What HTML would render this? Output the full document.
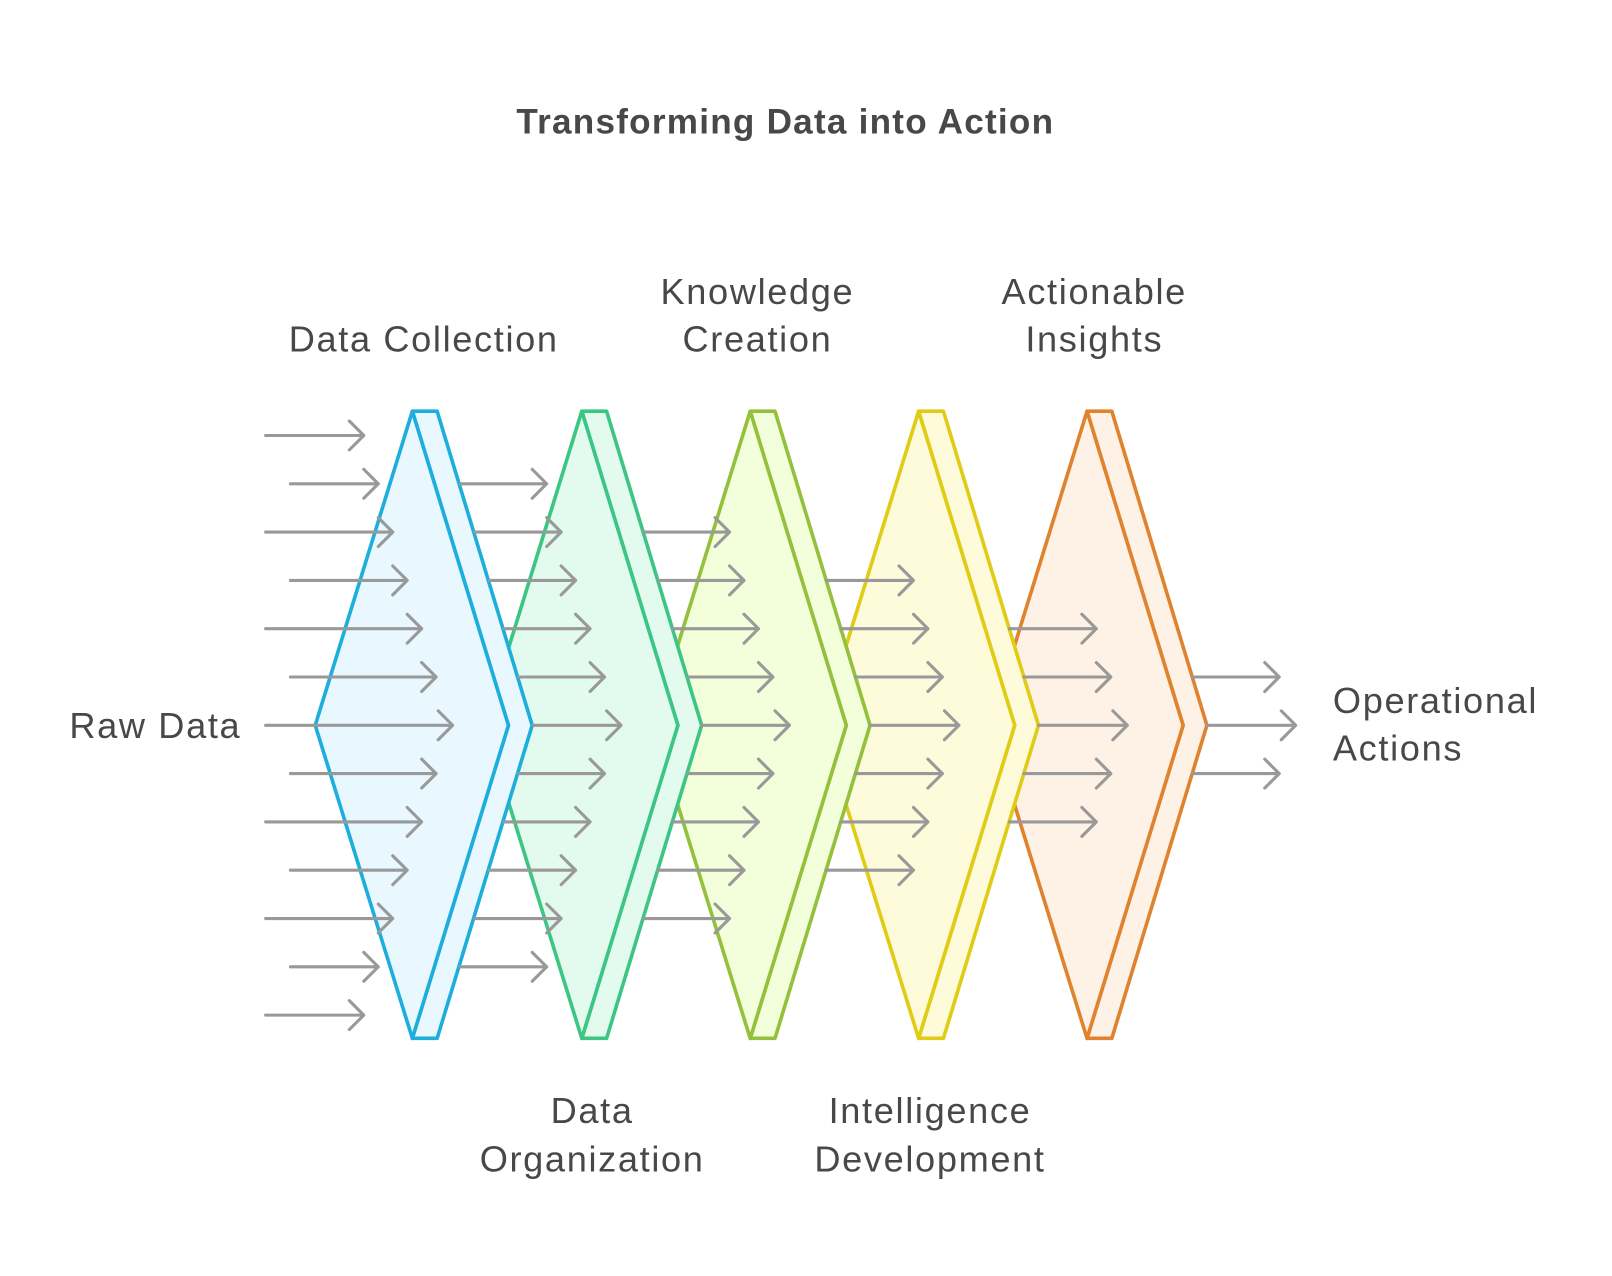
<!DOCTYPE html>
<html><head><meta charset="utf-8"><style>html,body{margin:0;padding:0;background:#fff}svg{display:block}text{font-family:"Liberation Sans",sans-serif;fill:#484848}</style></head>
<body>
<svg width="1612" height="1276" viewBox="0 0 1560 1235" xmlns="http://www.w3.org/2000/svg">
<defs>
<g id="st">
<polygon points="0,0 24,0 116,304 24,607 0,607 93,304" />
<polygon points="0,0 93,304 0,607 -94,304" />
</g>
</defs>
<g stroke-width="3.5" stroke-linejoin="round">
<use href="#st" x="1052" y="398" fill="#fef1e5" stroke="#e0832e"/>
<use href="#st" x="889" y="398" fill="#fefbdb" stroke="#e0cb15"/>
<use href="#st" x="726" y="398" fill="#f3fedb" stroke="#93c13c"/>
<use href="#st" x="563" y="398" fill="#e2fbee" stroke="#3cc583"/>
<use href="#st" x="399" y="398" fill="#e8f8fe" stroke="#1eaedb"/>
</g>
<g id="arrows" stroke="#999" stroke-width="3" fill="none" stroke-linecap="round" stroke-linejoin="round"></g>
<text x="760" y="118" font-size="34" font-weight="bold" letter-spacing="1.2" text-anchor="middle" dominant-baseline="central">Transforming Data into Action</text>
<g font-size="35" letter-spacing="1.6" text-anchor="middle" dominant-baseline="central">
<text x="410" y="328">Data Collection</text>
<text x="733" y="282">Knowledge</text><text x="733" y="328">Creation</text>
<text x="1059" y="282">Actionable</text><text x="1059" y="328">Insights</text>
<text x="573" y="1075">Data</text><text x="573" y="1122">Organization</text>
<text x="900" y="1075">Intelligence</text><text x="900" y="1122">Development</text>
</g>
<g font-size="35" letter-spacing="1.6" dominant-baseline="central">
<text x="67" y="702">Raw Data</text>
<text x="1290" y="678">Operational</text>
<text x="1290" y="724">Actions</text>
</g>
<script>
(function(){
var g=document.getElementById('arrows'),d='';
function arr(x1,x2,y){d+='M'+x1+' '+y+'H'+x2+'M'+(x2-14)+' '+(y-14)+'L'+x2+' '+y+'L'+(x2-14)+' '+(y+14);}
var step=46.75,c=702;
for(var k=-6;k<=6;k++){var y=c+k*step;var e=438-(k==0?0:2+Math.abs(k)*14);arr(Math.abs(k)%2==0?257:281,e,y);}
var cols=[[423,601,5],[586,764,4],[749,928,3],[912,1091,2],[1075,1254,1]];
cols.forEach(function(cc){for(var k=-cc[2];k<=cc[2];k++){var y=c+k*step;var off=Math.abs(k)*step*0.303;var sx=cc[0]+92-off;var e=cc[1]-(k==0?0:2+Math.abs(k)*14);arr(sx+1,e,y);}});
var p=document.createElementNS('http://www.w3.org/2000/svg','path');p.setAttribute('d',d);g.appendChild(p);
})();
</script>
</svg>
</body></html>
